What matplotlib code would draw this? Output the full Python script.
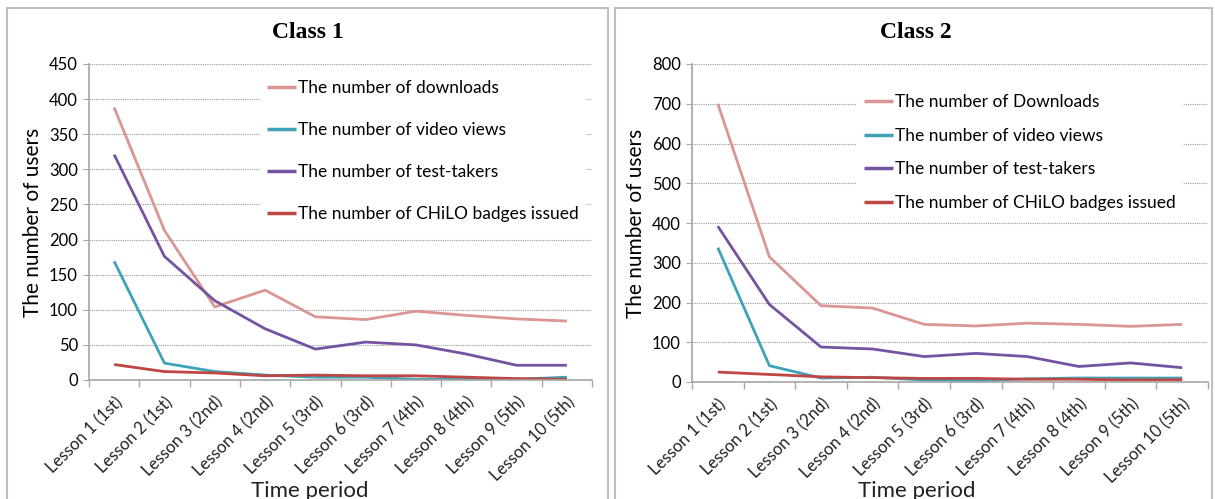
import matplotlib

matplotlib.use('Agg')
import matplotlib.pyplot as plt
from matplotlib.patches import Rectangle
from matplotlib.ticker import FixedLocator, MultipleLocator

W, H = 1215, 499

lessons = [
    'Lesson 1 (1st)', 'Lesson 2 (1st)', 'Lesson 3 (2nd)', 'Lesson 4 (2nd)', 'Lesson 5 (3rd)',
    'Lesson 6 (3rd)', 'Lesson 7 (4th)', 'Lesson 8 (4th)', 'Lesson 9 (5th)', 'Lesson 10 (5th)',
]

# Class 1
c1_downloads = [388, 213, 104, 128, 90, 86, 98, 92, 87, 84]
c1_video = [169, 24, 12, 7, 4, 4, 1, 1, 1, 4]
c1_tests = [321, 176, 113, 73, 44, 54, 50, 37, 21, 21]
c1_badges = [22, 12, 10, 6, 7, 6, 6, 4, 2, 1]

# Class 2
c2_downloads = [700, 315, 192, 186, 145, 141, 148, 145, 140, 145]
c2_video = [338, 41, 10, 12, 5, 3, 8, 10, 10, 10]
c2_tests = [392, 195, 88, 83, 64, 72, 64, 39, 48, 36]
c2_badges = [25, 19, 13, 11, 9, 9, 7, 7, 5, 6]

colors = {
    'downloads': '#D99694',
    'video': '#3FA3B8',
    'tests': '#7553A0',
    'badges': '#BE4643',
}

SANS = ['Lato', 'DejaVu Sans']
GRAY = '#A6A6A6'


def px_axes(fig, left, right, top, bottom):
    return fig.add_axes([left / W, (H - bottom) / H, (right - left) / W, (bottom - top) / H])


def panel(fig, x0, x1, title, title_x):
    fig.patches.append(Rectangle((x0 / W, -0.1), (x1 - x0) / W, 1.1 - 8 / H,
                                 transform=fig.transFigure, fill=False,
                                 edgecolor='#BFBFBF', linewidth=1.5, zorder=0))
    fig.text(title_x / W, 1 - 33 / H, title, ha='center', va='center',
             family='Liberation Serif', fontweight='bold', fontsize=17)


def draw(ax, series, labels, ymax, ystep, leg_anchor, leg_spacing, xlab_x):
    x = list(range(len(lessons)))
    for vals, key, lab in zip(series, ['downloads', 'video', 'tests', 'badges'], labels):
        ax.plot(x, vals, color=colors[key], linewidth=2.0, label=lab, solid_capstyle='butt')
    ax.set_xlim(-0.5, len(lessons) - 0.5)
    ax.set_ylim(0, ymax)
    ax.yaxis.set_major_locator(MultipleLocator(ystep))
    ax.set_xticks(x)
    ax.set_xticklabels(lessons, rotation=45, ha='right', rotation_mode='anchor',
                       family=SANS, fontsize=12, color='#222222')
    ax.xaxis.set_minor_locator(FixedLocator([i - 0.5 for i in range(len(lessons) + 1)]))
    ax.tick_params(axis='x', which='major', length=0, pad=10)
    ax.tick_params(axis='x', which='minor', length=5, color=GRAY, width=1)
    ax.tick_params(axis='y', length=4, color=GRAY, labelsize=12, pad=4)
    for t in ax.get_yticklabels():
        t.set_family(SANS)
    ax.grid(axis='y', linestyle=(0, (1, 1)), color='#9A9A9A', linewidth=0.8)
    ax.set_axisbelow(True)
    for s in ['top', 'right']:
        ax.spines[s].set_visible(False)
    for s in ['left', 'bottom']:
        ax.spines[s].set_color(GRAY)
        ax.spines[s].set_linewidth(1.2)
    ax.set_ylabel('The number of users', family=SANS, fontsize=15, labelpad=4)
    fig = ax.figure
    fig.text(xlab_x / W, 1 - 491 / H, 'Time period', ha='center', va='center',
             family=SANS, fontsize=16, color='#222222')
    leg = ax.legend(loc='upper left', bbox_to_anchor=leg_anchor, frameon=True,
                    fancybox=False, edgecolor='none', facecolor='white', framealpha=1,
                    borderpad=0.4, handlelength=1.7, handletextpad=0.1,
                    labelspacing=leg_spacing, borderaxespad=0,
                    prop={'family': SANS, 'size': 12.5})
    leg.get_frame().set_linewidth(0)
    for ln in leg.get_lines():
        ln.set_linewidth(2.5)


fig = plt.figure(figsize=(W / 100, H / 100), dpi=100)

panel(fig, 7, 608, 'Class 1', 308)
panel(fig, 615, 1212, 'Class 2', 916)

ax1 = px_axes(fig, 89, 592, 64, 380)
draw(ax1, [c1_downloads, c1_video, c1_tests, c1_badges],
     ['The number of downloads', 'The number of video views',
      'The number of test-takers', 'The number of CHiLO badges issued'],
     450, 50, ((260 - 89) / 503, (380 - 73) / 316), 1.5, 310)

ax2 = px_axes(fig, 692, 1208, 64, 382)
draw(ax2, [c2_downloads, c2_video, c2_tests, c2_badges],
     ['The number of Downloads', 'The number of video views',
      'The number of test-takers', 'The number of CHiLO badges issued'],
     800, 100, ((857 - 692) / 516, (382 - 87) / 318), 1.02, 917)

fig.savefig('out.png', dpi=100)
